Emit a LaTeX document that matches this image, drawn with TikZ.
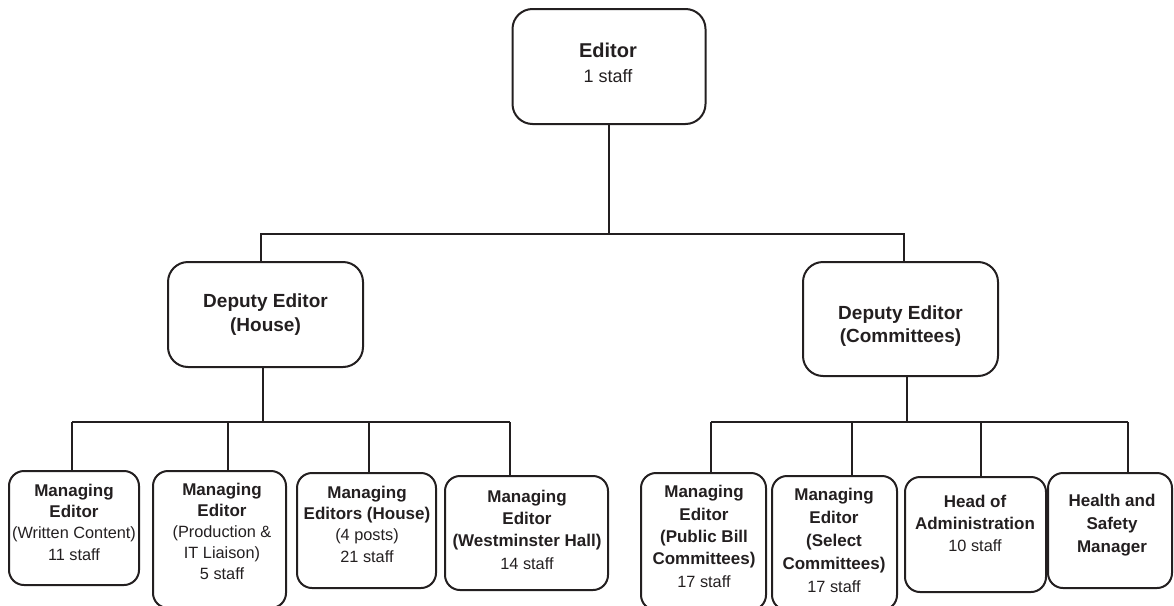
\documentclass[tikz,border=0pt]{standalone}
\usepackage{fontspec}
\setmainfont{Liberation Sans}
\definecolor{ink}{HTML}{231F20}
% bold heading line inside the small boxes
\newcommand{\bl}[1]{{\fontsize{17}{22}\selectfont\bfseries #1}}
\begin{document}
\begin{tikzpicture}[x=1pt,y=-1pt,
  every node/.style={inner sep=0pt, outer sep=0pt, text=ink},
  box/.style={draw=ink, line width=2pt, rounded corners=#1},
  box/.default=15pt,
  link/.style={draw=ink, line width=2pt},
  small/.style={align=center, font=\fontsize{16.3}{#1}\selectfont},
  small/.default=22pt,
  deputy/.style={align=center, font=\fontsize{19}{#1}\selectfont\bfseries},
]
\useasboundingbox (0,0) rectangle (1174,605);

% ---- top level
\node[box=20pt, minimum width=193pt, minimum height=115pt] (ed) at (609,66.5) {};
\node[align=center, font=\fontsize{18}{25}\selectfont] (edT) at (608,62.5)
  {{\fontsize{20}{25}\selectfont\bfseries Editor}\\1 staff};

% ---- deputies
\node[box=20pt, minimum width=195pt, minimum height=105pt] (dh) at (265.5,314.5) {};
\node[deputy=24pt] (dhT) at (265.5,315) {Deputy Editor\\(House)};
\node[box=20pt, minimum width=195pt, minimum height=114pt] (dc) at (900.5,319) {};
\node[deputy=23pt] (dcT) at (900.5,326.5) {Deputy Editor\\(Committees)};

% ---- managing editors, house side
\node[box, minimum width=130pt, minimum height=114pt] (m1) at (74,528) {};
\node[small=21.3pt] (m1T) at (74,522) {\bl{Managing}\\\bl{Editor}\\(Written Content)\\11 staff};
\node[box, minimum width=133pt, minimum height=137pt] (m2) at (219.5,539.5) {};
\node[small=20.8pt] (m2T) at (222,531.5) {\bl{Managing}\\\bl{Editor}\\(Production \&\\IT Liaison)\\5 staff};
\node[box, minimum width=139pt, minimum height=115pt] (m3) at (366.5,530.5) {};
\node[small=21.3pt] (m3T) at (367,524) {\bl{Managing}\\\bl{Editors (House)}\\(4 posts)\\21 staff};
\node[box, minimum width=163pt, minimum height=114pt] (m4) at (526.5,533) {};
\node[small=22.3pt] (m4T) at (527,529.5) {\bl{Managing}\\\bl{Editor}\\\bl{(Westminster Hall)}\\14 staff};

% ---- committees side
\node[box, minimum width=125pt, minimum height=137pt] (m5) at (703.5,541.5) {};
\node[small=22.3pt] (m5T) at (704,536.5) {\bl{Managing}\\\bl{Editor}\\\bl{(Public Bill}\\\bl{Committees)}\\17 staff};
\node[box, minimum width=125pt, minimum height=134pt] (m6) at (834.5,543) {};
\node[small=22.8pt] (m6T) at (834,540.5) {\bl{Managing}\\\bl{Editor}\\\bl{(Select}\\\bl{Committees)}\\17 staff};
\node[box, minimum width=141pt, minimum height=115pt] (m7) at (975.5,534.5) {};
\node[small=22pt] (m7T) at (975,523.5) {\bl{Head of}\\\bl{Administration}\\10 staff};
\node[box, minimum width=124pt, minimum height=115pt] (m8) at (1110,530.5) {};
\node[small=23pt] (m8T) at (1112,525) {\bl{Health and}\\\bl{Safety}\\\bl{Manager}};

% ---- bus levels
\coordinate (tbus) at (0,234);
\coordinate (hbus) at (0,422);

% editor to deputies
\draw[link] (ed.south) -- (ed.south |- tbus);
\draw[link] ([xshift=-4.5pt]dh.north) |- ([xshift=3.5pt]dc.north |- tbus) -- ([xshift=3.5pt]dc.north);

% deputy (house) to its managing editors
\draw[link] ([xshift=-2.5pt]dh.south) -- ([xshift=-2.5pt]dh.south |- hbus);
\draw[link] ([xshift=-2pt]m1.north |- hbus) -- ([xshift=-16.5pt]m4.north |- hbus);
\draw[link] ([xshift=-2pt]m1.north) -- ([xshift=-2pt]m1.north |- hbus);
\draw[link] ([xshift=8.5pt]m2.north) -- ([xshift=8.5pt]m2.north |- hbus);
\draw[link] ([xshift=2.5pt]m3.north) -- ([xshift=2.5pt]m3.north |- hbus);
\draw[link] ([xshift=-16.5pt]m4.north) -- ([xshift=-16.5pt]m4.north |- hbus);

% deputy (committees) to its managers
\draw[link] ([xshift=6.5pt]dc.south) -- ([xshift=6.5pt]dc.south |- hbus);
\draw[link] ([xshift=7.5pt]m5.north |- hbus) -- ([xshift=18pt]m8.north |- hbus);
\draw[link] ([xshift=7.5pt]m5.north) -- ([xshift=7.5pt]m5.north |- hbus);
\draw[link] ([xshift=17.5pt]m6.north) -- ([xshift=17.5pt]m6.north |- hbus);
\draw[link] ([xshift=5.5pt]m7.north) -- ([xshift=5.5pt]m7.north |- hbus);
\draw[link] ([xshift=18pt]m8.north) -- ([xshift=18pt]m8.north |- hbus);
\end{tikzpicture}
\end{document}
